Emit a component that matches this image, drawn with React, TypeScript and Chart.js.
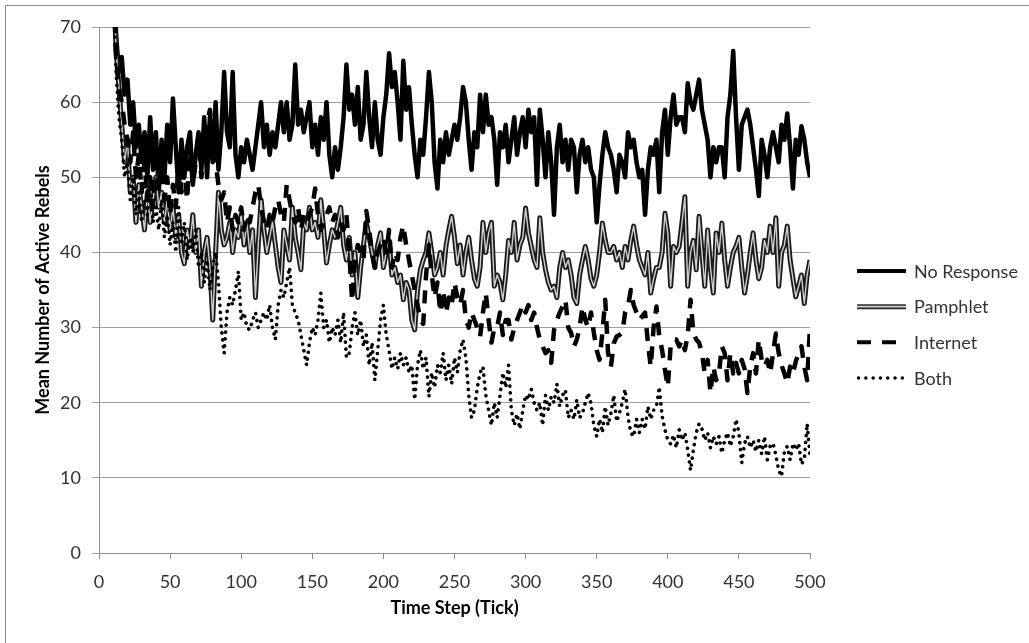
import React, { useEffect, useRef } from "react";
import { Chart, registerables } from "chart.js";

Chart.register(...registerables);

// x positions: simulation ticks sampled every 2 steps, from tick 10 to 500
const TICK_START = 10;
const TICK_STEP = 2;

const seriesNames = ["No Response", "Pamphlet", "Internet", "Both"];
const xAxisTitle = "Time Step (Tick)";
const yAxisTitle = "Mean Number of Active Rebels";

const noResponse = [
  80, 69, 64, 66, 61, 63, 57, 60, 54, 57,
  52, 56, 50, 58, 51, 56, 48, 55, 50, 57,
  52, 60.5, 54, 48, 55, 50, 54, 56, 49, 53,
  56, 51, 58, 50, 58, 52, 60, 51, 56, 64,
  56, 54, 64, 53, 50, 54, 52, 55, 53, 51,
  54, 57, 60, 54, 57, 53, 56, 54, 57, 60,
  56, 60, 55, 57, 65, 57, 59, 56, 58, 60,
  54, 57, 53, 58, 55, 60, 53, 50, 54, 51,
  54, 58, 65, 59, 61, 57, 62, 55, 57, 64,
  58, 54, 60, 55, 53, 58, 61, 66.5, 62, 64,
  60, 55, 65.5, 59, 62, 57, 53, 50, 55, 53,
  58, 64, 60, 52, 48.5, 55, 52, 56, 53, 55,
  57, 55, 58, 62, 60, 55, 51, 56, 54, 61,
  56, 61, 57, 58, 55, 49, 56, 54, 57, 52,
  55, 58, 53, 56, 58, 54, 59, 56, 58, 49,
  59, 55, 50, 56, 52, 45, 54, 57, 52, 55,
  51, 55, 54, 48, 53, 55, 52, 54, 51, 50,
  44, 49, 53, 56, 54, 53, 51, 48, 53, 52,
  50, 56, 54, 55, 52, 50, 51, 45, 51, 54,
  53, 55, 48, 56, 59, 53, 58, 61, 57, 58,
  58, 56, 62.5, 60, 59, 61, 63, 59, 57, 55,
  50, 54, 52, 54, 54, 50, 58, 61, 66.8, 58,
  51, 57, 58, 59, 57, 54, 51, 47.5, 55, 53,
  50, 54, 56, 54, 52, 57, 55, 58.5, 54, 48.5,
  55, 53, 56.8, 55, 52, 50,
];

const pamphlet = [
  78, 67, 62, 57, 52, 55, 48, 50, 44, 49,
  46, 43, 48, 44, 47, 50, 46, 48, 44, 47,
  43, 46, 42, 45, 40, 38.5, 43, 41, 45, 40,
  43, 35.5, 40, 42, 38, 31, 40, 48, 43, 41,
  42, 44, 40, 43, 42, 45, 41, 44, 40, 43,
  34, 41, 47, 43, 40, 42, 44, 41, 38, 36,
  43, 41, 39, 46, 42, 40, 37.7, 44, 43, 46,
  43, 44, 42, 47, 43, 38.6, 41, 43, 42, 44,
  46, 41, 39, 42, 37, 40, 34, 38, 41, 44,
  42, 40, 38, 41, 42.6, 38, 40, 41.6, 37, 38,
  36, 37, 33.7, 36, 35, 31, 29.7, 35, 37.7, 39,
  40, 42.6, 40, 37, 38, 40, 37, 40.8, 43, 44.8,
  42, 38.5, 41, 37, 40, 42, 39, 36.5, 35.5, 38,
  44, 40, 42.6, 44, 35.5, 37, 36, 33.7, 37, 41.6,
  40, 44, 39, 41, 42, 45.9, 42.6, 40.8, 39, 38,
  44.6, 40, 37.7, 36, 35, 35.5, 34, 38, 40, 38,
  39, 37, 34, 33.2, 37, 39, 40.8, 39, 36.5, 35.5,
  37, 40, 43.9, 41.6, 40, 40, 40.8, 39, 40, 38,
  40.8, 39, 41.6, 43.5, 41, 39, 38, 37, 40, 34.6,
  36.5, 38, 38, 40, 45.2, 42.6, 35.5, 40.8, 40, 40.8,
  44, 47.4, 35.5, 40, 41.6, 37.7, 44.8, 40, 35.5, 43,
  38, 34.6, 42.6, 40, 43.9, 39, 35.5, 38, 40, 40.8,
  42, 38, 34.6, 37, 40, 42.6, 39, 36.5, 38, 41.6,
  40, 43.5, 40, 44.6, 35.5, 40, 41, 43.5, 39, 36.5,
  34.1, 35.5, 37, 33.2, 37, 39,
];

const internet = [
  77, 66, 62, 60, 57, 55, 52, 56, 50, 53,
  48, 52, 47, 50, 46, 52, 48, 53, 47, 50,
  45, 49, 46, 52, 48, 51, 47, 54, 49, 52,
  55, 50, 53, 57, 59, 55, 52, 49, 47, 48,
  44, 46, 43, 45, 44, 46, 43, 45, 44, 46,
  48, 49, 46, 44, 43, 45, 44, 46, 47, 45,
  44, 49, 47, 45, 44, 46, 43, 45, 44, 45,
  46, 48.5, 45, 43, 44, 45, 46, 44, 45, 42,
  44, 43, 45, 40, 33.5, 39, 41, 40, 39, 45.5,
  43, 40, 38, 40, 41, 42, 40, 43, 38, 40,
  39, 42, 43.6, 41, 39, 37, 35, 33, 31, 30.5,
  37, 41, 37, 34, 36, 32, 35, 31.9, 34, 33,
  36, 34, 33, 35, 31, 30, 32, 31, 30, 28.8,
  32, 34.6, 31, 28, 30, 30, 32, 29, 31, 31,
  28.4, 30, 31, 32, 33, 32, 33, 31, 32, 30,
  28.4, 27.5, 26.6, 27, 25.3, 29.7, 31, 32, 32.8, 33.7,
  30, 29.3, 27.5, 28.4, 30, 32.8, 31, 30, 32, 29.3,
  27, 25.7, 29.3, 33.7, 26.6, 24.8, 27.9, 28.8, 29, 29.3,
  32, 32.8, 35, 33, 32, 31, 31.5, 32, 28, 24.8,
  30, 32.8, 28.8, 27, 24.4, 22.1, 27.5, 28.4, 28.4, 27.5,
  28.4, 27, 29, 33.7, 29.3, 28.4, 28, 26.6, 23.9, 25.7,
  21.3, 24.8, 23, 23.9, 27.5, 26.6, 23, 26.6, 23.9, 25.3,
  23.9, 25.7, 24.5, 21.3, 24.8, 26.6, 23.9, 28.4, 25.7, 24.8,
  25.7, 23.9, 26.6, 29.2, 26.6, 25, 23.9, 22.6, 24.8, 23.9,
  25.5, 26.6, 27.5, 24.8, 23, 30,
];

const both = [
  76, 64, 58, 55, 50, 52, 47, 50, 45, 48,
  44, 47, 45, 49, 44, 46, 43, 47, 42, 45,
  41, 44, 40, 46, 41, 44, 39, 42, 40, 43,
  38, 40, 36, 39, 35, 38, 40, 36, 30, 26.6,
  32, 34, 33, 35, 37.5, 31, 32, 30, 29.7, 31,
  32, 30, 31, 32, 31, 33, 30, 28.4, 33, 35,
  34, 36, 38, 33, 32, 31, 29, 27, 25, 28,
  30, 29, 31, 34.6, 30, 31, 28, 30, 29, 31,
  28, 32, 26, 26.6, 30, 32, 29, 31, 27.5, 29,
  25, 28, 23, 27, 31, 33, 29, 27, 24.5, 26,
  24.5, 26.6, 25, 26, 24, 25, 20.4, 25, 27, 24.5,
  26, 20.8, 24, 22, 25, 24, 26.6, 23, 25, 22.5,
  26, 24, 27, 28.4, 26, 21, 18, 19, 22, 24,
  24.8, 21, 19, 17, 20, 18, 21, 24, 22, 25,
  19, 17, 18.5, 16.5, 19, 21, 20.4, 21.8, 20, 19,
  20, 17, 21, 19, 20.8, 20, 22.5, 19.5, 21, 21.7,
  18, 19, 17.8, 20.4, 18, 18.6, 20, 21.3, 19.9, 17,
  15.5, 17.8, 16, 19.5, 17, 18.6, 21, 17.5, 18.6, 20,
  21.8, 18.2, 16, 15.5, 17.8, 16, 17.8, 16.5, 19.5, 17.8,
  19, 19.5, 22.1, 18.2, 16.4, 15, 14.5, 15.7, 14, 16.4,
  15, 16, 13.8, 11, 13.8, 16, 17.2, 16.5, 15, 16,
  14, 15.5, 14.5, 15.5, 13.3, 15, 16, 14.2, 15.5, 17.8,
  16, 12, 14.6, 15.5, 14, 15, 13.5, 15, 13.2, 15.5,
  12.4, 14.2, 14.6, 13, 11, 10.2, 13.5, 14.2, 12.4, 14.6,
  13.7, 14.6, 11.8, 12.5, 17.2, 13,
];

const X_MIN = 0;
const X_MAX = 500;
const X_STEP = 50;
const Y_MIN = 0;
const Y_MAX = 70;
const Y_STEP = 10;

const FONT = "Lato, 'Open Sans', 'DejaVu Sans', sans-serif";

function toPoints(values: number[]) {
  return values.map((v, i) => ({ x: TICK_START + i * TICK_STEP, y: v }));
}

type LegendStyle = { kind: "solid" | "double" | "dash" | "dot" };
const legendStyles: LegendStyle[] = [
  { kind: "solid" },
  { kind: "double" },
  { kind: "dash" },
  { kind: "dot" },
];

const legendPlugin = {
  id: "customLegend",
  afterDraw(chart: any) {
    const ctx: CanvasRenderingContext2D = chart.ctx;
    const area = chart.chartArea;
    const x0 = area.right + 47;
    const x1 = area.right + 96;
    const tx = area.right + 104;
    const cy = chart.height / 2 + 3;
    const gap = 35.7;
    ctx.save();
    seriesNames.forEach((name, i) => {
      const y = cy + (i - 1.5) * gap;
      const st = legendStyles[i];
      ctx.setLineDash([]);
      ctx.lineCap = "butt";
      if (st.kind === "solid") {
        ctx.strokeStyle = "#000";
        ctx.lineWidth = 4;
        ctx.beginPath(); ctx.moveTo(x0, y); ctx.lineTo(x1, y); ctx.stroke();
      } else if (st.kind === "double") {
        ctx.strokeStyle = "#2a2a2a";
        ctx.lineWidth = 5;
        ctx.beginPath(); ctx.moveTo(x0, y); ctx.lineTo(x1, y); ctx.stroke();
        ctx.strokeStyle = "#d0d0d0";
        ctx.lineWidth = 1.6;
        ctx.beginPath(); ctx.moveTo(x0, y); ctx.lineTo(x1, y); ctx.stroke();
      } else if (st.kind === "dash") {
        ctx.strokeStyle = "#000";
        ctx.lineWidth = 4;
        ctx.setLineDash([14, 11]);
        ctx.beginPath(); ctx.moveTo(x0, y); ctx.lineTo(x1, y); ctx.stroke();
      } else {
        ctx.strokeStyle = "#000";
        ctx.lineWidth = 3.4;
        ctx.lineCap = "round";
        ctx.setLineDash([0.1, 7.2]);
        ctx.beginPath(); ctx.moveTo(x0 + 1.5, y); ctx.lineTo(x1, y); ctx.stroke();
      }
      ctx.setLineDash([]);
      ctx.fillStyle = "#333";
      ctx.font = `18px ${FONT}`;
      ctx.textAlign = "left";
      ctx.textBaseline = "middle";
      ctx.fillText(name, tx, y + 1);
    });
    ctx.restore();
  },
};

export default function App() {
  const canvasRef = useRef<HTMLCanvasElement | null>(null);

  useEffect(() => {
    const canvas = canvasRef.current;
    if (!canvas) return;
    Chart.defaults.font.family = FONT;

    const chart = new Chart(canvas, {
      type: "line",
      data: {
        datasets: [
          {
            label: seriesNames[3],
            data: toPoints(both),
            borderColor: "#000",
            borderWidth: 3.6,
            borderDash: [0.1, 6.8],
            borderCapStyle: "round",
            borderJoinStyle: "round",
            pointRadius: 0,
            fill: false,
            order: 0,
            clip: 0,
          },
          {
            label: seriesNames[2],
            data: toPoints(internet),
            borderColor: "#000",
            borderWidth: 4.5,
            borderDash: [13, 10],
            borderCapStyle: "butt",
            borderJoinStyle: "round",
            pointRadius: 0,
            fill: false,
            order: 1,
            clip: 0,
          },
          {
            label: seriesNames[1] + " inner",
            data: toPoints(pamphlet),
            borderColor: "#cfcfcf",
            borderWidth: 1.4,
            borderJoinStyle: "round",
            pointRadius: 0,
            fill: false,
            order: 2,
            clip: 0,
          },
          {
            label: seriesNames[1],
            data: toPoints(pamphlet),
            borderColor: "#1a1a1a",
            borderWidth: 5,
            borderJoinStyle: "round",
            pointRadius: 0,
            fill: false,
            order: 3,
            clip: 0,
          },
          {
            label: seriesNames[0],
            data: toPoints(noResponse),
            borderColor: "#000",
            borderWidth: 4.5,
            borderJoinStyle: "round",
            pointRadius: 0,
            fill: false,
            order: 4,
            clip: 0,
          },
        ],
      },
      options: {
        responsive: false,
        animation: false,
        devicePixelRatio: 1,
        parsing: false,
        normalized: true,
        layout: { padding: { left: 32, right: 219, top: 27, bottom: 20 } },
        plugins: {
          legend: { display: false },
          tooltip: { enabled: false },
        },
        scales: {
          x: {
            type: "linear",
            min: X_MIN,
            max: X_MAX,
            ticks: {
              stepSize: X_STEP,
              color: "#333",
              font: { size: 18, family: FONT },
              padding: 12,
              maxRotation: 0,
              autoSkip: false,
            },
            grid: {
              drawOnChartArea: false,
              drawTicks: true,
              tickLength: 6,
              color: "#8c8c8c",
            },
            border: { display: true, color: "#8c8c8c" },
            title: {
              display: true,
              text: xAxisTitle,
              color: "#000",
              font: { size: 18, weight: "bold", family: FONT },
              padding: { top: 0, bottom: 4 },
            },
            afterFit: (s: any) => {
              s.height = 70;
            },
          },
          y: {
            type: "linear",
            min: Y_MIN,
            max: Y_MAX,
            ticks: {
              stepSize: Y_STEP,
              color: "#333",
              font: { size: 18, family: FONT },
              padding: 11,
            },
            grid: {
              color: "#a0a0a0",
              drawTicks: true,
              tickLength: 7,
            },
            border: { display: true, color: "#8c8c8c" },
            title: {
              display: true,
              text: yAxisTitle,
              color: "#000",
              font: { size: 18, weight: "bold", family: FONT },
              padding: { top: 0, bottom: 0 },
            },
            afterFit: (s: any) => {
              s.width = 67;
            },
          },
        },
      },
      plugins: [legendPlugin],
    } as any);

    return () => chart.destroy();
  }, []);

  return (
    <div
      style={{
        position: "fixed",
        left: 0,
        top: 0,
        width: 1029,
        height: 643,
        overflow: "hidden",
        background: "#fff",
      }}
    >
      <div
        style={{
          position: "absolute",
          left: 5,
          top: 5,
          width: 2000,
          height: 2000,
          borderLeft: "1px solid #8a8a8a",
          borderTop: "1px solid #8a8a8a",
        }}
      />
      <canvas
        ref={canvasRef}
        width={1029}
        height={643}
        style={{ position: "absolute", left: 0, top: 0, width: 1029, height: 643 }}
      />
    </div>
  );
}
